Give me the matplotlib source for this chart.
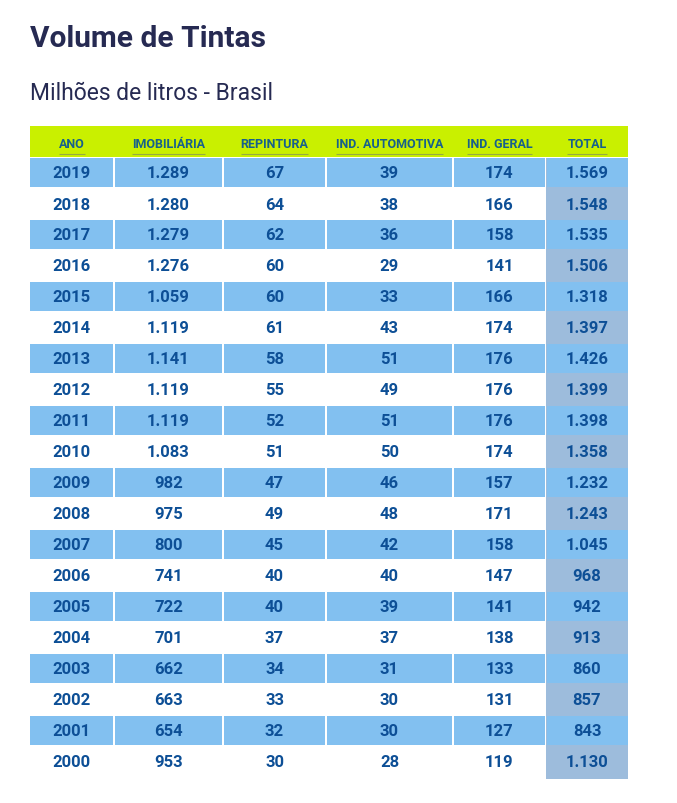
import matplotlib
matplotlib.use('Agg')
import matplotlib.pyplot as plt
from matplotlib.patches import Rectangle

# ---- data ----
title = "Volume de Tintas"
subtitle = "Milhões de litros - Brasil"
headers = ["ANO", "IMOBILIÁRIA", "REPINTURA", "IND. AUTOMOTIVA", "IND. GERAL", "TOTAL"]
anos = [2019, 2018, 2017, 2016, 2015, 2014, 2013, 2012, 2011, 2010,
        2009, 2008, 2007, 2006, 2005, 2004, 2003, 2002, 2001, 2000]
imobiliaria = [1289, 1280, 1279, 1276, 1059, 1119, 1141, 1119, 1119, 1083,
               982, 975, 800, 741, 722, 701, 662, 663, 654, 953]
repintura = [67, 64, 62, 60, 60, 61, 58, 55, 52, 51,
             47, 49, 45, 40, 40, 37, 34, 33, 32, 30]
ind_automotiva = [39, 38, 36, 29, 33, 43, 51, 49, 51, 50,
                  46, 48, 42, 40, 39, 37, 31, 30, 30, 28]
ind_geral = [174, 166, 158, 141, 166, 174, 176, 176, 176, 174,
             157, 171, 158, 147, 141, 138, 133, 131, 127, 119]
total = [1569, 1548, 1535, 1506, 1318, 1397, 1426, 1399, 1398, 1358,
         1232, 1243, 1045, 968, 942, 913, 860, 857, 843, 1130]

# ---- style / layout ----
W, H = 677, 804
FONT = "Roboto"
GREEN = "#c9f000"
BLUE = "#82c0f0"
GREY_BLUE = "#9dbcdc"
TEXT_BLUE = "#0d4f96"
HEAD_TEXT = "#17608c"
TITLE_COL = "#262a52"
col_edges = [29.6, 114, 223, 326, 453, 546, 628]
header_top, header_h = 127, 30.5
row0, pitch, band_h = 173.5, 31.0, 28.5
total_bottom = 780


def fmt(v):
    return f"{v:,}".replace(",", ".")


fig = plt.figure(figsize=(W / 100, H / 100), dpi=100)
ax = fig.add_axes([0, 0, 1, 1])
ax.set_xlim(0, W)
ax.set_ylim(H, 0)
ax.axis("off")

# titles
ax.text(30, 47, title, fontsize=21.5, fontweight="bold", color=TITLE_COL,
        family=FONT, va="baseline", ha="left")
ax.text(30, 100, subtitle, fontsize=16.5, color=TITLE_COL,
        family=FONT, va="baseline", ha="left")

# header bar
ax.add_patch(Rectangle((col_edges[0], header_top), col_edges[-1] - col_edges[0],
                       header_h, color=GREEN, lw=0))

# total column background
tot_top = header_top + header_h + 1
ax.add_patch(Rectangle((col_edges[5], tot_top), col_edges[6] - col_edges[5],
                       total_bottom - tot_top, color=GREY_BLUE, lw=0))

columns = [[str(a) for a in anos], [fmt(v) for v in imobiliaria],
           [fmt(v) for v in repintura], [fmt(v) for v in ind_automotiva],
           [fmt(v) for v in ind_geral], [fmt(v) for v in total]]

ncols = len(headers)
for i in range(len(anos)):
    yc = row0 + pitch * i
    if i % 2 == 0:
        for c in range(ncols):
            l = col_edges[c] + (1 if c > 0 else 0)
            r = col_edges[c + 1] - (1 if c < ncols - 1 else 0)
            ax.add_patch(Rectangle((l, yc - band_h / 2), r - l, band_h,
                                   color=BLUE, lw=0))
    for c in range(ncols):
        xc = (col_edges[c] + col_edges[c + 1]) / 2
        ax.text(xc, yc + 0.5, columns[c][i], fontsize=12, fontweight="bold",
                color=TEXT_BLUE, family=FONT, ha="center", va="center")

# header texts
htexts = []
for c, h in enumerate(headers):
    xc = (col_edges[c] + col_edges[c + 1]) / 2
    t = ax.text(xc, header_top + 17, h, fontsize=9, fontweight="bold",
                color=HEAD_TEXT, family=FONT, ha="center", va="center")
    htexts.append(t)

fig.canvas.draw()
renderer = fig.canvas.get_renderer()
inv = ax.transData.inverted()
for t in htexts:
    bb = t.get_window_extent(renderer)
    (x0, _), (x1, _) = inv.transform([(bb.x0, bb.y0), (bb.x1, bb.y1)])
    ax.plot([x0, x1], [header_top + 28, header_top + 28], color="#8a9a52",
            lw=0.8, alpha=0.8, solid_capstyle="butt")

fig.savefig("out.png", dpi=100, facecolor="white")
